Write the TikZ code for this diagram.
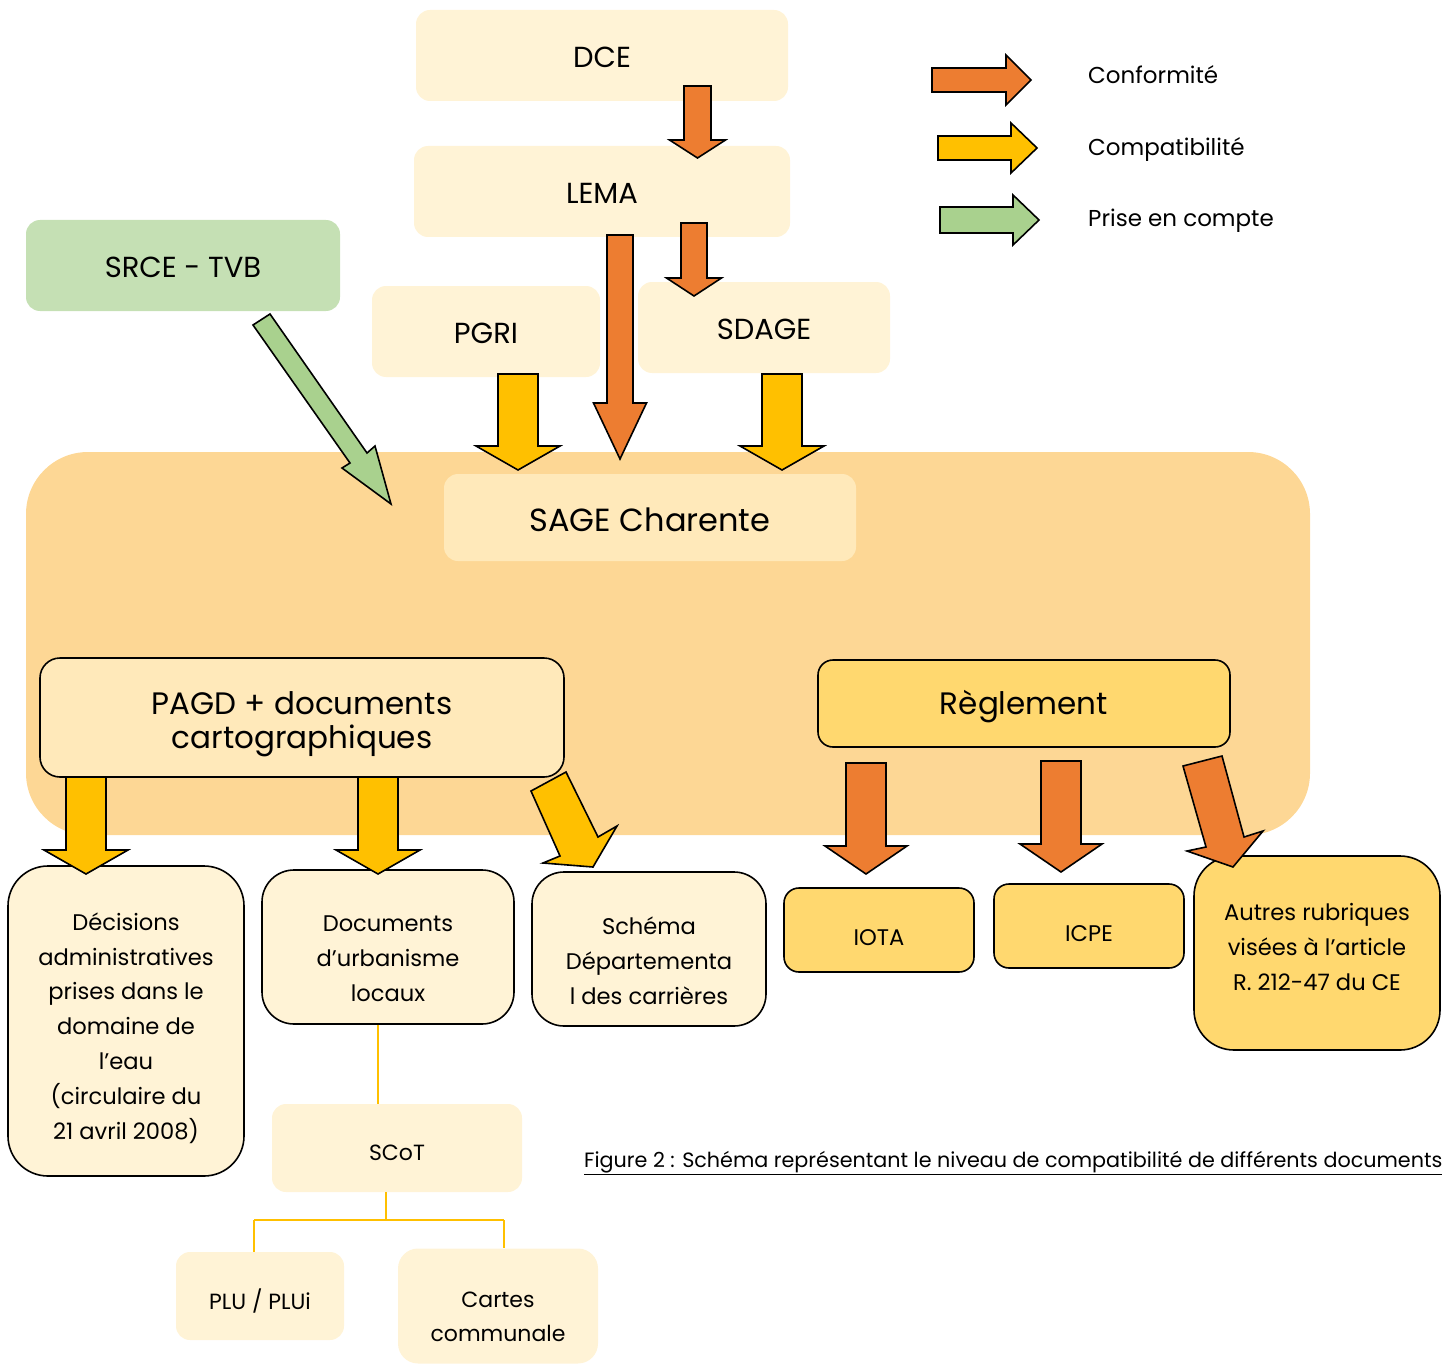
\documentclass[tikz,border=0pt]{standalone}
\usepackage{fontspec}
\setmainfont{Poppins}
\definecolor{bgorange}{HTML}{FDD795}
\definecolor{cream}{HTML}{FFF3D6}
\definecolor{paleor}{HTML}{FFE9BA}
\definecolor{gold}{HTML}{FFD86F}
\definecolor{greenbox}{HTML}{C5E0B4}
\definecolor{arrorange}{HTML}{ED7D31}
\definecolor{arryellow}{HTML}{FFC000}
\definecolor{arrgreen}{HTML}{A9D18E}
\newcommand{\fs}[2]{\fontsize{#1}{#2}\selectfont}
% vertical block arrow: x, ytop, ytip, shaft half width, head half width, head length, colour
\newcommand{\vbarrow}[7]{%
  \draw[blk, fill=#7] (#1-#4,#2) -- (#1+#4,#2) -- (#1+#4,#3-#6) -- (#1+#5,#3-#6)
    -- (#1,#3) -- (#1-#5,#3-#6) -- (#1-#4,#3-#6) -- cycle;}
% horizontal block arrow: y, xleft, xtip, shaft half, head half, head length, colour
\newcommand{\hbarrow}[7]{%
  \draw[blk, fill=#7] (#2,#1-#4) -- (#3-#6,#1-#4) -- (#3-#6,#1-#5) -- (#3,#1)
    -- (#3-#6,#1+#5) -- (#3-#6,#1+#4) -- (#2,#1+#4) -- cycle;}
\begin{document}
\begin{tikzpicture}[x=1pt,y=-1pt,
  blk/.style={draw=black, line width=1.6pt, line join=miter},
  soft/.style={rectangle, rounded corners=14pt, fill=cream, inner sep=0pt},
  framed/.style={rectangle, draw=black, line width=1.6pt, inner sep=0pt},
  txt/.style={inner sep=0pt, align=center},
  bigtxt/.style={txt, font=\fs{29}{34}},
  smalltxt/.style={txt, font=\fs{22.6}{34.8}},
  thinline/.style={draw=arryellow, line width=1.8pt}
]
\useasboundingbox (0,0) rectangle (1450,1364);
% background area of the SAGE
\fill[bgorange, rounded corners=62pt] (26,452) rectangle (1310,835);

% top boxes
\node[soft, minimum width=372pt, minimum height=91pt] (dce) at (602,55.5) {};
\node[bigtxt] (dcet) at (602,57) {DCE};
\node[soft, minimum width=376pt, minimum height=91pt] (lema) at (602,191.5) {};
\node[bigtxt] (lemat) at (602,193) {LEMA};
\node[soft, fill=greenbox, minimum width=314pt, minimum height=91pt] (srce) at (183,265.5) {};
\node[bigtxt] (srcet) at (183,267) {SRCE - TVB};
\node[soft, minimum width=228pt, minimum height=91pt] (pgri) at (486,331.5) {};
\node[bigtxt] (pgrit) at (486,333) {PGRI};
\node[soft, minimum width=252pt, minimum height=91pt] (sdage) at (764,327.5) {};
\node[bigtxt] (sdaget) at (764,329) {SDAGE};
\node[soft, fill=paleor, minimum width=412pt, minimum height=87pt] (sage) at (650,517.5) {};
\node[txt, font=\fs{32}{36}] (saget) at (650,520) {SAGE Charente};

% inner boxes
\node[framed, fill=paleor, rounded corners=20pt, minimum width=524pt, minimum height=119pt] (pagd) at (302,717.5) {};
\node[txt, font=\fs{31}{34}] (pagdt) at (302,724) {PAGD + documents\\cartographiques};
\node[framed, fill=gold, rounded corners=15pt, minimum width=412pt, minimum height=87pt] (regl) at (1024,703.5) {};
\node[txt, font=\fs{31}{34}] (reglt) at (1024,707) {Règlement};

% lower boxes
\node[framed, fill=cream, rounded corners=40pt, minimum width=236pt, minimum height=310pt] (deci) at (126,1021) {};
\node[smalltxt] (decit) at (126,1028)
  {Décisions\\administratives\\prises dans le\\domaine de\\l’eau\\(circulaire du\\21 avril 2008)};
\node[framed, fill=cream, rounded corners=32pt, minimum width=252pt, minimum height=154pt] (docs) at (388,947) {};
\node[smalltxt] (docst) at (388,959) {Documents\\d’urbanisme\\locaux};
\node[framed, fill=cream, rounded corners=32pt, minimum width=234pt, minimum height=154pt] (schema) at (649,949) {};
\node[smalltxt] (schemat) at (649,961) {Schéma\\Départementa\\l des carrières};
\node[framed, fill=gold, rounded corners=15pt, minimum width=190pt, minimum height=84pt] (iota) at (879,930) {};
\node[smalltxt] (iotat) at (879,938) {IOTA};
\node[framed, fill=gold, rounded corners=15pt, minimum width=190pt, minimum height=84pt] (icpe) at (1089,926) {};
\node[smalltxt] (icpet) at (1089,934) {ICPE};
\node[framed, fill=gold, rounded corners=40pt, minimum width=246pt, minimum height=194pt] (autres) at (1317,953) {};
\node[smalltxt] (autrest) at (1317,947) {Autres rubriques\\visées à l’article\\R. 212-47 du CE};

% urbanism tree
\node[soft, minimum width=250pt, minimum height=88pt] (scot) at (397,1148) {};
\node[txt, font=\fs{22}{34}] (scott) at (397,1153) {SCoT};
\node[soft, minimum width=168pt, minimum height=88pt] (plu) at (260,1296) {};
\node[txt, font=\fs{22}{34}] (plut) at (260,1301) {PLU / PLUi};
\node[soft, rounded corners=20pt, minimum width=200pt, minimum height=115pt] (cartes) at (498,1306) {};
\node[txt, font=\fs{22}{34}] (cartest) at (498,1317) {Cartes\\communale};

\coordinate (lx) at (378,0);
\coordinate (sx) at (386,0);
\coordinate (jl) at (254,1220);
\coordinate (jr) at (504,1220);
\draw[thinline] (docs.south -| lx) -- (scot.north -| lx);
\draw[thinline] (scot.south -| sx) -- (jl -| sx);
\draw[thinline] (jl) -- (jr);
\draw[thinline] (jl) -- (plu.north -| jl);
\draw[thinline] (jr) -- (cartes.north -| jr);

% conformity arrows (orange)
\vbarrow{697.5}{86}{158}{13.5}{28}{18}{arrorange}
\vbarrow{694}{223}{296}{13}{27.5}{18}{arrorange}
\vbarrow{620}{235}{459}{13}{26.5}{56}{arrorange}
\vbarrow{866}{763}{874}{20}{41}{28}{arrorange}
\vbarrow{1061}{761}{872}{20}{41}{28}{arrorange}
\draw[blk, fill=arrorange] (1183,766) -- (1222,756) -- (1244,837) -- (1263,831) -- (1233,867) -- (1187,851) -- (1206,847) -- cycle;

% compatibility arrows (yellow)
\vbarrow{518}{374}{470}{20}{42}{24}{arryellow}
\vbarrow{782}{374}{470}{20}{42}{24}{arryellow}
\vbarrow{86}{777}{874}{20}{42}{24}{arryellow}
\vbarrow{378}{777}{874}{20}{42}{24}{arryellow}
\draw[blk, fill=arryellow] (531,791) -- (566,772) -- (598,837) -- (617,826) -- (593,867) -- (543,863) -- (560,856) -- cycle;

% taking into account arrow (green)
\draw[blk, fill=arrgreen] (253,325) -- (270,314) -- (367,453) -- (375,446) -- (391,504) -- (342,468) -- (350,463) -- cycle;

% legend
\hbarrow{80}{932}{1031}{12}{25}{25}{arrorange}
\hbarrow{148}{938}{1037}{12}{25}{26}{arryellow}
\hbarrow{220}{940}{1039}{13}{25}{26}{arrgreen}
\node[anchor=base west, inner sep=0pt, font=\fs{23}{28}] (lc1) at (1088,84) {Conformité};
\node[anchor=base west, inner sep=0pt, font=\fs{23}{28}] (lc2) at (1088,156) {Compatibilité};
\node[anchor=base west, inner sep=0pt, font=\fs{23}{28}] (lc3) at (1088,227) {Prise en compte};

% caption
\node[anchor=base west, inner sep=0pt, font=\fs{20.7}{24}] (caption) at (584,1167) {\underline{Figure 2 : Schéma représentant le niveau de compatibilité de différents documents}};
\end{tikzpicture}
\end{document}
